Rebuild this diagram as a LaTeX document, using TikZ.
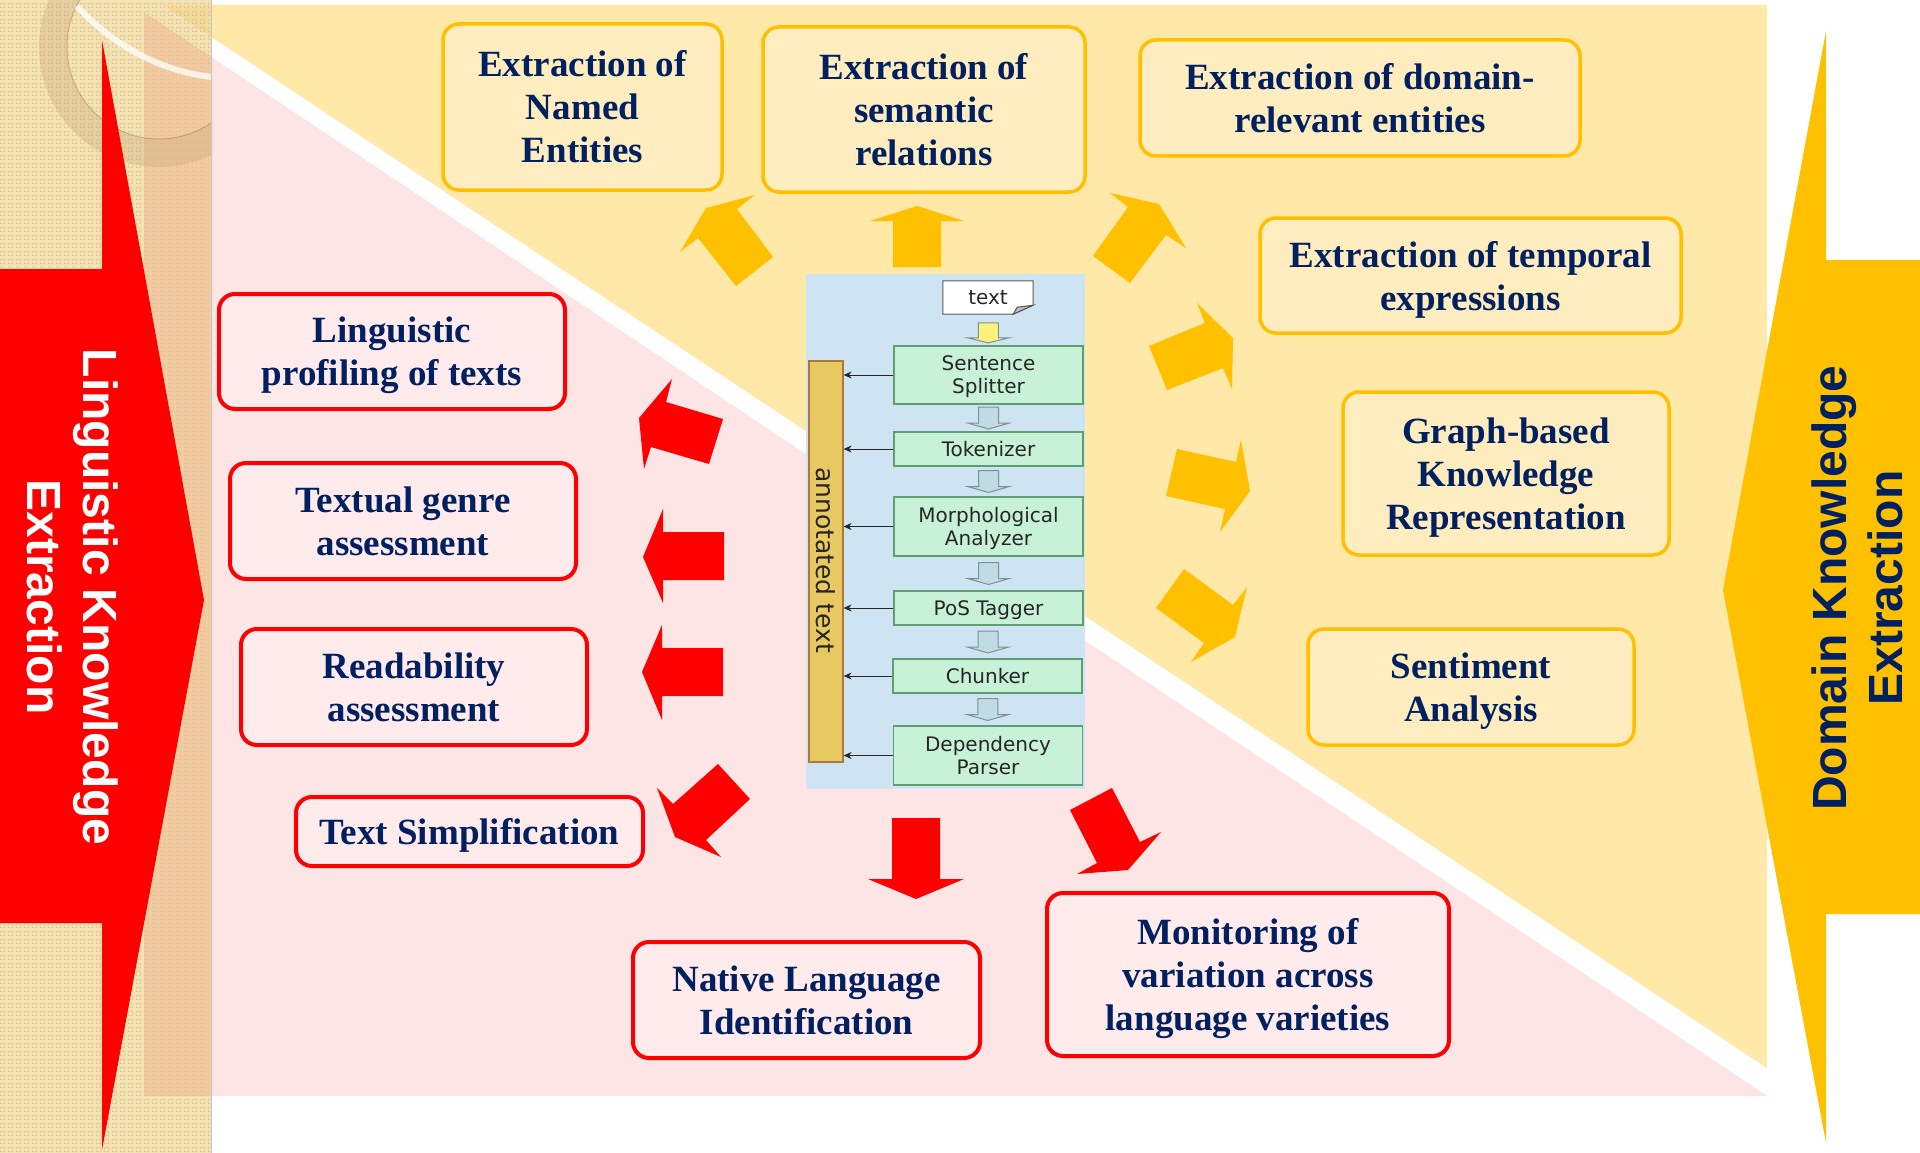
\documentclass[tikz,border=0pt]{standalone}
\usepackage{fontspec}
\setmainfont{Liberation Serif}
\newfontfamily\arialfont{Liberation Sans}
\newfontfamily\dvfont{DejaVu Sans}
\usetikzlibrary{patterns,arrows.meta,calc}
\pgfdeclarepatternformonly{sqgrid}{\pgfpoint{0pt}{0pt}}{\pgfpoint{8pt}{8pt}}{\pgfpoint{8pt}{8pt}}{%
  \pgfsetlinewidth{0.8pt}\pgfpathrectangle{\pgfpoint{1.5pt}{1.5pt}}{\pgfpoint{5pt}{5pt}}\pgfusepath{stroke}}
\newcommand\nodep[1]{\raisebox{0pt}[\height][0pt]{#1}}
\definecolor{redA}{HTML}{FF0000}
\definecolor{yelA}{HTML}{FFC000}
\definecolor{navy}{HTML}{002060}
\definecolor{ybg}{HTML}{FFE8A8}
\definecolor{yfill}{HTML}{FFEDC0}
\definecolor{pbg}{HTML}{FDE5E6}
\definecolor{pfill}{HTML}{FFEBEC}
\definecolor{stripc}{HTML}{F5E4B6}
\definecolor{ytint}{HTML}{F6DC98}
\definecolor{peach}{HTML}{F4CBA2}
\definecolor{pattc}{HTML}{DFC796}
\definecolor{ringc}{HTML}{C9A97A}
\definecolor{pipebg}{HTML}{CFE4F3}
\definecolor{boxg}{HTML}{C8F2D8}
\definecolor{boxgb}{HTML}{5E9E70}
\definecolor{barf}{HTML}{E8C860}
\definecolor{barb}{HTML}{B07838}
\definecolor{harrowf}{HTML}{BFDCE3}
\definecolor{harrowb}{HTML}{7F9096}
\definecolor{yarr}{HTML}{FFF27A}
\begin{document}
\begin{tikzpicture}[x=1pt,y=-1pt,
  ybox/.style={draw=yelA, line width=3.5pt, fill=yfill, rounded corners=16pt,
    font=\bfseries\fontsize{37}{43}\selectfont, text=navy, align=center, inner sep=0pt},
  rbox/.style={draw=redA, line width=4pt, fill=pfill, rounded corners=16pt,
    font=\bfseries\fontsize{37}{43}\selectfont, text=navy, align=center, inner sep=0pt},
  stage/.style={draw=boxgb, line width=1.2pt, fill=boxg, font=\dvfont\fontsize{20}{23}\selectfont,
    text=black!85, align=center, minimum width=189, inner sep=0pt},
  yblk/.style={fill=yelA},
  rblk/.style={fill=redA},
  feed/.style={-{Stealth[length=8pt,width=7pt]}, line width=1pt, draw=black!85},
  harrow/.pic={\filldraw[fill=harrowf, draw=harrowb, line width=1pt]
     (-10,-11) -- (10,-11) -- (10,5) -- (21,5) -- (0,11) -- (-21,5) -- (-10,5) -- cycle;},
  yarrowpic/.pic={\filldraw[fill=yarr, draw=harrowb, line width=1pt]
     (-10,-10) -- (10,-10) -- (10,5) -- (21,5) -- (0,10) -- (-21,5) -- (-10,5) -- cycle;}
]
\useasboundingbox (0,0) rectangle (1920,1153);
\fill[white] (0,0) rectangle (1920,1153);
% background triangles
\fill[ybg] (163,5) -- (1767,5) -- (1767,1068) -- cycle;
\fill[pbg] (144,12) -- (1767,1096) -- (144,1096) -- cycle;
% left textured strip
\fill[stripc] (0,0) rectangle (212,1153);
\fill[ytint] (163,5) -- (212,5) -- (212,37.5) -- cycle;
\fill[peach] (144,12) -- (212,57.4) -- (212,1096) -- (144,1096) -- cycle;
\fill[pattern=sqgrid, pattern color=pattc] (0,0) rectangle (212,1153);
\begin{scope}
  \clip (0,0) rectangle (212,1153);
  \fill[ringc, opacity=0.35, even odd rule] (159,47) circle[radius=120] (159,47) circle[radius=92];
  \draw[brown!70!black, opacity=0.3, line width=1pt] (159,47) circle[radius=92];
  \draw[white, opacity=0.75, line width=6pt] (77,6) .. controls (115,48) and (165,72) .. (212,77);
\end{scope}
\draw[black!22, line width=1.5pt] (211.5,0) -- (211.5,1153);
% big side arrows
\fill[redA] (0,269) -- (102,269) -- (102,40) -- (204,600) -- (102,1150) -- (102,923) -- (0,923) -- cycle;
\fill[yelA] (1920,260) -- (1826,260) -- (1826,31) -- (1723,590) -- (1826,1143) -- (1826,914) -- (1920,914) -- cycle;
\node[rotate=-90, font=\arialfont\bfseries\fontsize{48}{56}\selectfont, text=white, align=center, inner sep=0pt]
  (lke) at (73,597) {Linguistic Knowledge\\Extraction};
\node[rotate=90, font=\arialfont\bfseries\fontsize{48}{56}\selectfont, text=navy, align=center, inner sep=0pt]
  (dke) at (1857,588) {Domain Knowledge\\Extraction};
% pipeline panel
\fill[pipebg] (806,274) rectangle (1085,789);
\node[minimum width=90, minimum height=33, inner sep=0pt] (txt) at (988,297.5) {};
\filldraw[fill=white, draw=black!65, line width=1pt] (txt.north west) -- (txt.north east) -- ($(txt.south east)+(0,-9)$)
  -- ($(txt.south east)+(-20,0)$) -- (txt.south west) -- cycle;
\filldraw[fill=black!25, draw=black!65, line width=1pt] ($(txt.south east)+(0,-9)$) -- ($(txt.south east)+(-20,0)$) -- ($(txt.south east)+(-16,-7)$) -- cycle;
\node[font=\dvfont\fontsize{20}{23}\selectfont, text=black!85, inner sep=0pt] (txtlabel) at (txt.center) {text};
\node[stage, minimum height=58] (ss) at (988.5,375) {Sentence\\\nodep{Splitter}};
\node[stage, minimum height=34] (tok) at (988.5,449) {Tokenizer};
\node[stage, minimum height=59] (ma) at (988.5,526.5) {Morphological\\\nodep{Analyzer}};
\node[stage, minimum height=34] (pos) at (988.5,608) {\nodep{PoS Tagger}};
\node[stage, minimum height=34] (ch) at (987.5,676) {Chunker};
\node[stage, minimum height=59] (dp) at (988,755.5) {Dependency\\Parser};
\node[draw=barb, fill=barf, line width=1.2pt, minimum width=34, minimum height=401, inner sep=0pt] (bar) at (826,561.5) {};
\node[rotate=-90, font=\dvfont\fontsize{25}{25}\selectfont, text=black!85, inner sep=0pt] (bartext) at (826,560) {annotated text};
\pic at ($(txt.south)!0.5!(ss.north)+(0,3)$) {yarrowpic};
\pic at ($(ss.south)!0.5!(tok.north)$) {harrow};
\pic at ($(tok.south)!0.5!(ma.north)$) {harrow};
\pic at ($(ma.south)!0.5!(pos.north)$) {harrow};
\pic at ($(pos.south)!0.5!(ch.north)$) {harrow};
\pic at ($(ch.south)!0.5!(dp.north)$) {harrow};
\foreach \s in {ss,tok,ma,pos,ch,dp} {\draw[feed] (\s.west) -- (\s.west -| bar.east);}
% yellow boxes
\node[ybox, minimum width=279, minimum height=166] (ne) at (582.5,107) {Extraction of\\Named\\Entities};
\node[ybox, minimum width=322, minimum height=165] (sr) at (924,109.5) {Extraction of\\semantic\\relations};
\node[ybox, minimum width=440, minimum height=116] (dr) at (1360,98) {Extraction of domain-\\relevant entities};
\node[ybox, minimum width=421, minimum height=115] (te) at (1470.5,275.5) {Extraction of temporal\\\nodep{expressions}};
\node[ybox, minimum width=326, minimum height=163] (gb) at (1506,473.5) {Graph-based\\Knowledge\\\nodep{Representation}};
\node[ybox, minimum width=326, minimum height=116] (sa) at (1471,687) {Sentiment\\\nodep{Analysis}};
% red boxes
\node[rbox, minimum width=346, minimum height=115] (lp) at (392,351.5) {Linguistic\\\nodep{profiling of texts}};
\node[rbox, minimum width=346, minimum height=116] (tg) at (403,521) {Textual genre\\assessment};
\node[rbox, minimum width=346, minimum height=116] (ra) at (414,687) {Readability\\assessment};
\node[rbox, minimum width=347, minimum height=69] (ts) at (469.5,831.5) {\nodep{Text Simplification}};
\node[rbox, minimum width=347, minimum height=116] (nl) at (806.5,1000) {Native Language\\Identification};
\node[rbox, minimum width=402, minimum height=163] (mv) at (1248,974.5) {Monitoring of\\variation across\\\nodep{language varieties}};
% yellow block arrows
\fill[yblk] (680,252) -- (706,208) -- (755,195) -- (737,209) -- (773,257) -- (736,286) -- (698,238) -- cycle;
\fill[yblk] (893,267) -- (893,221) -- (870,221) -- (917,206) -- (964,221) -- (941,221) -- (941,267) -- cycle;
\fill[yblk] (1093,256) -- (1128,207) -- (1110,193) -- (1159,204) -- (1186,248) -- (1166,235) -- (1130,283) -- cycle;
\fill[yblk] (1149,346) -- (1205,323) -- (1197,303) -- (1233,338) -- (1232,389) -- (1223,368) -- (1167,390) -- cycle;
\fill[yblk] (1177,449) -- (1236,462) -- (1241,440) -- (1250,491) -- (1220,532) -- (1225,509) -- (1166,496) -- cycle;
\fill[yblk] (1184,569) -- (1233,605) -- (1247,587) -- (1235,637) -- (1191,662) -- (1204,643) -- (1156,608) -- cycle;
% red block arrows
\fill[rblk] (672,379) -- (666,402) -- (723,419) -- (709,464) -- (651,447) -- (644,469) -- (639,418) -- cycle;
\fill[rblk] (724,532) -- (663,532) -- (663,509) -- (643,557) -- (663,603) -- (663,580) -- (724,580) -- cycle;
\fill[rblk] (723,648) -- (662,648) -- (662,625) -- (642,672) -- (662,720) -- (662,696) -- (723,696) -- cycle;
\fill[rblk] (657,788) -- (673,804) -- (718,764) -- (750,799) -- (706,840) -- (721,857) -- (675,837) -- cycle;
\fill[rblk] (892,818) -- (940,818) -- (940,879) -- (964,879) -- (916,899) -- (868,879) -- (892,879) -- cycle;
\fill[rblk] (1070,810) -- (1112,788) -- (1140,842) -- (1161,832) -- (1128,870) -- (1077,874) -- (1097,863) -- cycle;
\end{tikzpicture}
\end{document}
